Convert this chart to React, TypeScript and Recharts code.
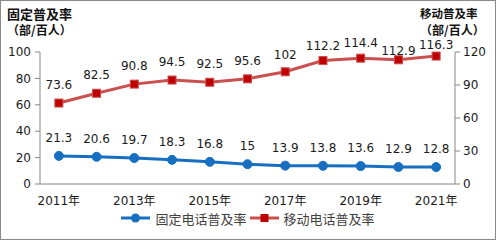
import React from 'react';
import { LineChart, Line, XAxis, YAxis, Legend, LabelList } from 'recharts';

const years = ['2011年', '2012年', '2013年', '2014年', '2015年', '2016年', '2017年', '2018年', '2019年', '2020年', '2021年'];
const fixedRate = [21.3, 20.6, 19.7, 18.3, 16.8, 15, 13.9, 13.8, 13.6, 12.9, 12.8];
const mobileRate = [73.6, 82.5, 90.8, 94.5, 92.5, 95.6, 102, 112.2, 114.4, 112.9, 116.3];
const leftTicks = [0, 20, 40, 60, 80, 100];
const rightTicks = [0, 30, 60, 90, 120];
const boundaryTicks = [3, 6, 9];

const data = years.map((year, i) => ({ year, fixed: fixedRate[i], mobile: mobileRate[i], idx: i + 0.5 }));

const BLUE = '#176fc1';
const RED_LINE = '#c8504e';
const RED_MARK = '#c00000';
const AXIS = '#868686';
const FONT = '"DejaVu Sans", "Noto Sans CJK SC", sans-serif';
const CJK_FONT = '"Noto Sans CJK SC", "DejaVu Sans", sans-serif';

// how far above the point each value label sits (mobile labels crowd near the top)
const fixedLift = years.map(() => 18);
const mobileLift = [18, 18, 18, 18, 18, 18, 17, 15, 15, 9, 11];

const makeLabel = (lift: number[]) => (props: any) => {
  const { x, y, value, index } = props;
  return (
    <text x={x} y={y - lift[index]} textAnchor="middle" dominantBaseline="central" fontSize={12} fill="#1a1a1a" fontFamily={FONT}>
      {value}
    </text>
  );
};

const CircleDot = (props: any) => {
  const { cx, cy, index } = props;
  return <circle key={`c${index}`} cx={cx} cy={cy} r={4.5} fill={BLUE} stroke={BLUE} strokeWidth={1} />;
};

const SquareDot = (props: any) => {
  const { cx, cy, index } = props;
  return <rect key={`s${index}`} x={cx - 4} y={cy - 4} width={8} height={8} fill={RED_MARK} stroke={RED_LINE} strokeWidth={1} />;
};

const LegendIcon = ({ color, marker }: { color: string; marker: 'circle' | 'square' }) => (
  <svg width={29} height={10} style={{ marginRight: 5 }}>
    <line x1={0} y1={5} x2={29} y2={5} stroke={color} strokeWidth={3} />
    {marker === 'circle'
      ? <circle cx={14.5} cy={5} r={4.5} fill={BLUE} />
      : <rect x={10.5} y={1} width={8} height={8} fill={RED_MARK} />}
  </svg>
);

const renderLegend = () => (
  <div style={{ display: 'flex', justifyContent: 'center', alignItems: 'center', height: 20, fontFamily: FONT, fontSize: 13, color: '#404040' }}>
    <span style={{ display: 'flex', alignItems: 'center', marginRight: 3 }}>
      <LegendIcon color={BLUE} marker="circle" />固定电话普及率
    </span>
    <span style={{ display: 'flex', alignItems: 'center' }}>
      <LegendIcon color={RED_LINE} marker="square" />移动电话普及率
    </span>
  </div>
);

export default function App() {
  return (
    <div style={{ position: 'fixed', left: 0, top: 0, width: 496, height: 240, background: '#fff' }}>
      <LineChart width={496} height={240} data={data} margin={{ top: 52, right: 0, left: 0, bottom: 12 }}>
        <XAxis
          xAxisId="bounds"
          type="number"
          dataKey="idx"
          domain={[0, 11]}
          ticks={boundaryTicks}
          tick={false}
          axisLine={false}
          tickLine={{ stroke: AXIS }}
          tickSize={5}
          mirror
          height={0}
        />
        <XAxis
          dataKey="year"
          scale="band"
          interval={1}
          tickLine={false}
          axisLine={{ stroke: AXIS }}
          tick={{ fill: '#1a1a1a', fontSize: 12, fontFamily: FONT }}
          tickSize={0}
          tickMargin={12}
          height={24}
        />
        <YAxis
          yAxisId="left"
          domain={[0, 100]}
          ticks={leftTicks}
          width={40}
          axisLine={{ stroke: AXIS }}
          tickLine={{ stroke: AXIS }}
          tickSize={5}
          tickMargin={4}
          tick={{ fill: '#1a1a1a', fontSize: 12, fontFamily: FONT }}
        />
        <YAxis
          yAxisId="right"
          orientation="right"
          domain={[0, 120]}
          ticks={rightTicks}
          width={41}
          axisLine={{ stroke: AXIS }}
          tickLine={{ stroke: AXIS }}
          tickSize={5}
          tickMargin={3}
          tick={{ fill: '#1a1a1a', fontSize: 12, fontFamily: FONT }}
        />
        <Legend verticalAlign="bottom" content={renderLegend} />
        <Line yAxisId="left" dataKey="fixed" name="固定电话普及率" stroke={BLUE} strokeWidth={3} dot={CircleDot} isAnimationActive={false}>
          <LabelList dataKey="fixed" content={makeLabel(fixedLift)} />
        </Line>
        <Line yAxisId="right" dataKey="mobile" name="移动电话普及率" stroke={RED_LINE} strokeWidth={3} dot={SquareDot} isAnimationActive={false}>
          <LabelList dataKey="mobile" content={makeLabel(mobileLift)} />
        </Line>
      </LineChart>
      {/* axis titles */}
      <svg width={496} height={40} style={{ position: 'absolute', left: 0, top: 0, pointerEvents: 'none' }}>
        <g fontFamily={CJK_FONT} fontWeight="bold" fill="#111" dominantBaseline="central">
          <text x={7} y={13} fontSize={13}>固定普及率</text>
          <text x={7} y={29} fontSize={12}>（部/百人）</text>
          <text x={420} y={13} fontSize={11.5}>移动普及率</text>
          <text x={420} y={29} fontSize={12}>（部/百人）</text>
        </g>
      </svg>
      <div style={{ position: 'absolute', inset: 0, border: '1px solid #8a8a8a', pointerEvents: 'none' }} />
    </div>
  );
}
